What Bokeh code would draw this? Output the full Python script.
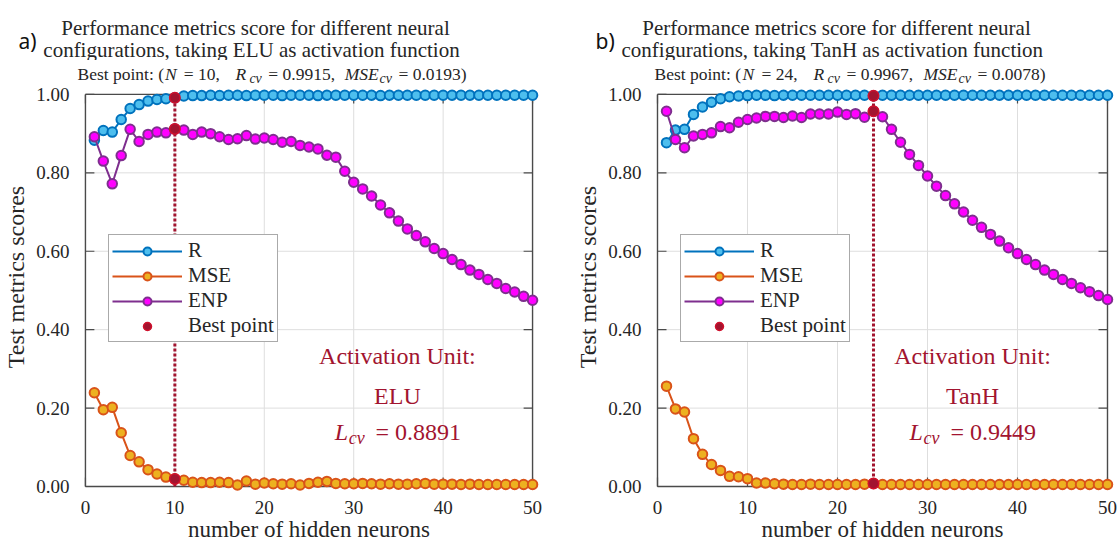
import numpy as np
from bokeh.plotting import figure
from bokeh.layouts import row, column
from bokeh.models import Range1d, FixedTicker, NumeralTickFormatter, Label, Legend, LegendItem
from bokeh.embed import file_html
from bokeh.resources import INLINE

# ---------------------------------------------------------------- data
neurons = list(range(1, 51))
x_ticks = [0, 10, 20, 30, 40, 50]
y_ticks = [0.0, 0.2, 0.4, 0.6, 0.8, 1.0]

elu_r = [0.883, 0.908, 0.904, 0.936, 0.964, 0.974, 0.983, 0.987, 0.989, 0.9915,
         0.996, 0.997, 0.997, 0.998, 0.997, 0.998, 0.998, 0.997, 0.998, 0.998,
         0.998, 0.997, 0.998, 0.998, 0.998, 0.997, 0.998, 0.998, 0.998, 0.998,
         0.998, 0.998, 0.997, 0.998, 0.998, 0.998, 0.998, 0.998, 0.998, 0.998,
         0.998, 0.998, 0.998, 0.998, 0.998, 0.998, 0.998, 0.998, 0.998, 0.998]
elu_mse = [0.239, 0.196, 0.202, 0.137, 0.079, 0.063, 0.043, 0.032, 0.024, 0.0193,
           0.016, 0.011, 0.010, 0.010, 0.011, 0.010, 0.004, 0.014, 0.006, 0.009,
           0.007, 0.006, 0.007, 0.004, 0.008, 0.011, 0.013, 0.008, 0.007, 0.007,
           0.008, 0.007, 0.006, 0.007, 0.006, 0.006, 0.007, 0.008, 0.006, 0.006,
           0.006, 0.005, 0.006, 0.005, 0.005, 0.005, 0.005, 0.005, 0.005, 0.005]
elu_enp = [0.892, 0.830, 0.772, 0.844, 0.911, 0.880, 0.898, 0.904, 0.902, 0.912,
           0.909, 0.898, 0.904, 0.900, 0.892, 0.885, 0.887, 0.895, 0.886, 0.889,
           0.885, 0.878, 0.880, 0.870, 0.866, 0.861, 0.845, 0.840, 0.804, 0.776,
           0.759, 0.741, 0.718, 0.698, 0.677, 0.657, 0.640, 0.624, 0.607, 0.594,
           0.579, 0.566, 0.552, 0.541, 0.528, 0.518, 0.505, 0.496, 0.485, 0.475]
elu_best_n, elu_best_r, elu_best_mse, elu_lcv = 10, 0.9915, 0.0193, 0.8891

tanh_r = [0.877, 0.909, 0.911, 0.949, 0.968, 0.980, 0.989, 0.994, 0.996, 0.997,
          0.998, 0.998, 0.997, 0.998, 0.998, 0.998, 0.998, 0.998, 0.998, 0.998,
          0.998, 0.998, 0.998, 0.9967, 0.998, 0.998, 0.998, 0.998, 0.998, 0.998,
          0.998, 0.998, 0.998, 0.998, 0.998, 0.998, 0.998, 0.998, 0.998, 0.998,
          0.998, 0.998, 0.998, 0.998, 0.998, 0.998, 0.998, 0.998, 0.998, 0.998]
tanh_mse = [0.256, 0.198, 0.190, 0.122, 0.082, 0.056, 0.041, 0.026, 0.025, 0.020,
            0.009, 0.009, 0.007, 0.006, 0.005, 0.005, 0.006, 0.005, 0.005, 0.005,
            0.005, 0.005, 0.006, 0.0078, 0.005, 0.005, 0.005, 0.005, 0.005, 0.005,
            0.005, 0.005, 0.005, 0.005, 0.005, 0.005, 0.005, 0.005, 0.005, 0.005,
            0.005, 0.005, 0.005, 0.005, 0.005, 0.005, 0.005, 0.005, 0.005, 0.005]
tanh_enp = [0.957, 0.885, 0.864, 0.894, 0.898, 0.902, 0.918, 0.915, 0.929, 0.936,
            0.940, 0.944, 0.944, 0.941, 0.945, 0.941, 0.950, 0.950, 0.950, 0.955,
            0.949, 0.951, 0.942, 0.957, 0.943, 0.911, 0.878, 0.847, 0.819, 0.792,
            0.766, 0.742, 0.721, 0.700, 0.679, 0.661, 0.643, 0.626, 0.609, 0.594,
            0.579, 0.566, 0.552, 0.541, 0.528, 0.518, 0.507, 0.497, 0.487, 0.477]
tanh_best_n, tanh_best_r, tanh_best_mse, tanh_lcv = 24, 0.9967, 0.0078, 0.9449

# ---------------------------------------------------------------- style
SERIF = "Liberation Serif"
INK = "#262626"
FRAME = "#4a4a4a"
GRID = "#dedede"
CRIMSON = "#A2142F"
R_LINE, R_FILL = "#0072BD", "#4DBEEE"
MSE_LINE, MSE_FILL = "#D95319", "#EDB120"
ENP_LINE, ENP_FILL = "#7E2F8E", "#FF00FF"

HEADER_H = 60          # strip holding the panel tag and two-line title
PLOT_H = 544 - HEADER_H
MB_BOTTOM = 50
BOX_TOP, BOX_BOTTOM = 94 - HEADER_H, 487 - HEADER_H   # axes box inside the chart strip
PPU_X = 9.0            # pixels per neuron
PPU_Y = BOX_BOTTOM - BOX_TOP                           # pixels per unit score


def label(s, x, y, size, color=INK, align="left", italic=False, font=SERIF):
    return Label(x=x, y=y, text=s, text_font=font, text_font_size=f"{size}px",
                 text_color=color, text_align=align, text_baseline="alphabetic",
                 text_font_style="italic" if italic else "normal")


def build_header(width, tag, tag_x, title_lines, title_cx):
    h = figure(width=width, height=HEADER_H, title=None, x_range=Range1d(0, width),
               y_range=Range1d(HEADER_H, 0), x_axis_type=None, y_axis_type=None,
               output_backend="svg", toolbar_location=None, outline_line_color=None,
               min_border=0, min_border_left=0, min_border_right=0,
               min_border_top=0, min_border_bottom=0, frame_align=False,
               background_fill_color="white", border_fill_color="white")
    h.grid.visible = False
    h.add_layout(label(tag, tag_x, 40, 21, color="#111111", font="Noto Sans"))
    h.add_layout(label(title_lines[0], title_cx[0], 27, 21, align="center"))
    h.add_layout(label(title_lines[1], title_cx[1], 49, 21, align="center"))
    return h


def build_chart(width, box_left, sub_x, note_cx, activation, r, mse, enp,
                best_n, best_r, best_mse, lcv):
    frame_left = box_left - 9
    frame_right = frame_left + 52 * PPU_X
    frame_bottom = PLOT_H - MB_BOTTOM
    p = figure(width=width, height=PLOT_H, title=None,
               x_range=Range1d((frame_left - box_left) / PPU_X, (frame_right - box_left) / PPU_X),
               y_range=Range1d((BOX_BOTTOM - frame_bottom) / PPU_Y, BOX_BOTTOM / PPU_Y),
               output_backend="svg", toolbar_location=None, frame_align=False,
               min_border_left=int(frame_left), min_border_right=int(width - frame_right),
               min_border_top=0, min_border_bottom=MB_BOTTOM,
               background_fill_color="white", border_fill_color="white",
               outline_line_color=None)
    p.grid.visible = False

    def put(s, px, py, size, color=INK, align="left", italic=False):
        # px, py: position on the page; converted to this chart's data space
        x, y = (px - box_left) / PPU_X, (BOX_BOTTOM - (py - HEADER_H)) / PPU_Y
        p.add_layout(label(s, x, y, size, color=color, align=align, italic=italic))

    x0, x1 = x_ticks[0], x_ticks[-1]
    y0, y1 = y_ticks[0], y_ticks[-1]
    tx, ty = 9 / PPU_X, 9 / PPU_Y          # inward tick length

    # grid
    gx, gy = x_ticks[1:-1], y_ticks[1:-1]
    p.segment(x0=gx, y0=[y0] * len(gx), x1=gx, y1=[y1] * len(gx), line_color=GRID, line_width=1)
    p.segment(x0=[x0] * len(gy), y0=gy, x1=[x1] * len(gy), y1=gy, line_color=GRID, line_width=1)

    # box and inward ticks on all four sides
    p.segment(x0=[x0, x0, x0, x1], y0=[y0, y1, y0, y0], x1=[x1, x1, x0, x1], y1=[y0, y1, y1, y1],
              line_color=FRAME, line_width=1.4)
    n_x, n_y = len(x_ticks), len(y_ticks)
    p.segment(x0=x_ticks * 2, y0=[y0] * n_x + [y1 - ty] * n_x,
              x1=x_ticks * 2, y1=[y0 + ty] * n_x + [y1] * n_x, line_color=FRAME, line_width=1.2)
    p.segment(x0=[x0] * n_y + [x1 - tx] * n_y, y0=y_ticks * 2,
              x1=[x0 + tx] * n_y + [x1] * n_y, y1=y_ticks * 2, line_color=FRAME, line_width=1.2)

    # axes: labels only, the box above carries the lines and ticks
    for ax in p.xaxis:
        ax.ticker = FixedTicker(ticks=x_ticks)
        ax.major_label_standoff = 1
        ax.axis_label = "number of hidden neurons"
        ax.axis_label_standoff = 0
        ax.axis_label_text_font_size = "23px"
    for ax in p.yaxis:
        ax.ticker = FixedTicker(ticks=y_ticks)
        ax.formatter = NumeralTickFormatter(format="0.00")
        ax.major_label_standoff = 1
        ax.axis_label = "Test metrics scores"
        ax.axis_label_standoff = 4
        ax.axis_label_text_font_size = "24px"
    for ax in p.axis:
        ax.axis_line_color = None
        ax.major_tick_line_color = None
        ax.minor_tick_line_color = None
        ax.major_label_text_font = SERIF
        ax.major_label_text_font_size = "19px"
        ax.major_label_text_color = INK
        ax.axis_label_text_font = SERIF
        ax.axis_label_text_font_style = "normal"
        ax.axis_label_text_color = INK

    # series
    mk = dict(marker="circle", size=9.5, line_width=2)
    r_line = p.line(neurons, r, line_color=R_LINE, line_width=2)
    r_dots = p.scatter(neurons, r, fill_color=R_FILL, line_color=R_LINE, **mk)
    m_line = p.line(neurons, mse, line_color=MSE_LINE, line_width=2)
    m_dots = p.scatter(neurons, mse, fill_color=MSE_FILL, line_color=MSE_LINE, **mk)
    e_line = p.line(neurons, enp, line_color=ENP_LINE, line_width=2)
    e_dots = p.scatter(neurons, enp, fill_color=ENP_FILL, line_color=ENP_LINE, **mk)

    # best configuration
    p.line([best_n, best_n], [y0, best_r], line_color=CRIMSON, line_width=3, line_dash="3 2")
    best = p.scatter([best_n] * 3, [best_r, enp[best_n - 1], best_mse], marker="circle",
                     size=10.5, fill_color=CRIMSON, line_color="#D0102C", line_width=1.5)

    legend = Legend(items=[LegendItem(label="R", renderers=[r_line, r_dots]),
                           LegendItem(label="MSE", renderers=[m_line, m_dots]),
                           LegendItem(label="ENP", renderers=[e_line, e_dots]),
                           LegendItem(label="Best point", renderers=[best])],
                    location=(32, frame_bottom - (343 - HEADER_H)), margin=0, padding=3,
                    spacing=0, glyph_width=70, glyph_height=20, label_height=20,
                    label_standoff=6, label_text_font=SERIF, label_text_font_size="21px",
                    label_text_color=INK, label_text_baseline="middle",
                    border_line_color="#555555", border_line_width=1,
                    background_fill_color="white", background_fill_alpha=1.0)
    p.add_layout(legend)

    # best-point summary line above the box
    pieces = [(0, "Best point: (", False, False),
              (88, "N", True, False),
              (107, f"= {best_n},", False, False),
              (159, "R", True, False),
              (173, "cv", True, True),
              (192, f"= {best_r:.4f},", False, False),
              (269, "MSE", True, False),
              (304, "cv", True, True),
              (323, f"= {best_mse:.4f})", False, False)]
    for off, s, it, sub in pieces:
        if sub:
            put(s, sub_x + off, 78, 14, italic=True)
        else:
            put(s, sub_x + off, 74, 17.5, italic=it)

    # activation note
    put("Activation Unit:", note_cx, 356, 24, color=CRIMSON, align="center")
    put(activation, note_cx, 396, 24, color=CRIMSON, align="center")
    put("L", note_cx - 63, 432, 24, color=CRIMSON, italic=True)
    put("cv", note_cx - 49, 438, 18, color=CRIMSON, italic=True)
    put(f"= {lcv:.4f}", note_cx - 22, 432, 24, color=CRIMSON)
    return p


left = column(
    build_header(558, "a)", 18,
                 ["Performance metrics score for different neural",
                  "configurations, taking ELU as activation function"],
                 (255, 251)),
    build_chart(558, 82, 74, 396, "ELU", elu_r, elu_mse, elu_enp,
                elu_best_n, elu_best_r, elu_best_mse, elu_lcv))

right = column(
    build_header(559, "b)", 37,
                 ["Performance metrics score for different neural",
                  "configurations, taking TanH as activation function"],
                 (278, 274)),
    build_chart(559, 99, 96, 414, "TanH", tanh_r, tanh_mse, tanh_enp,
                tanh_best_n, tanh_best_r, tanh_best_mse, tanh_lcv))

layout = row(left, right)
open("out.html", "w").write(file_html(layout, INLINE))
